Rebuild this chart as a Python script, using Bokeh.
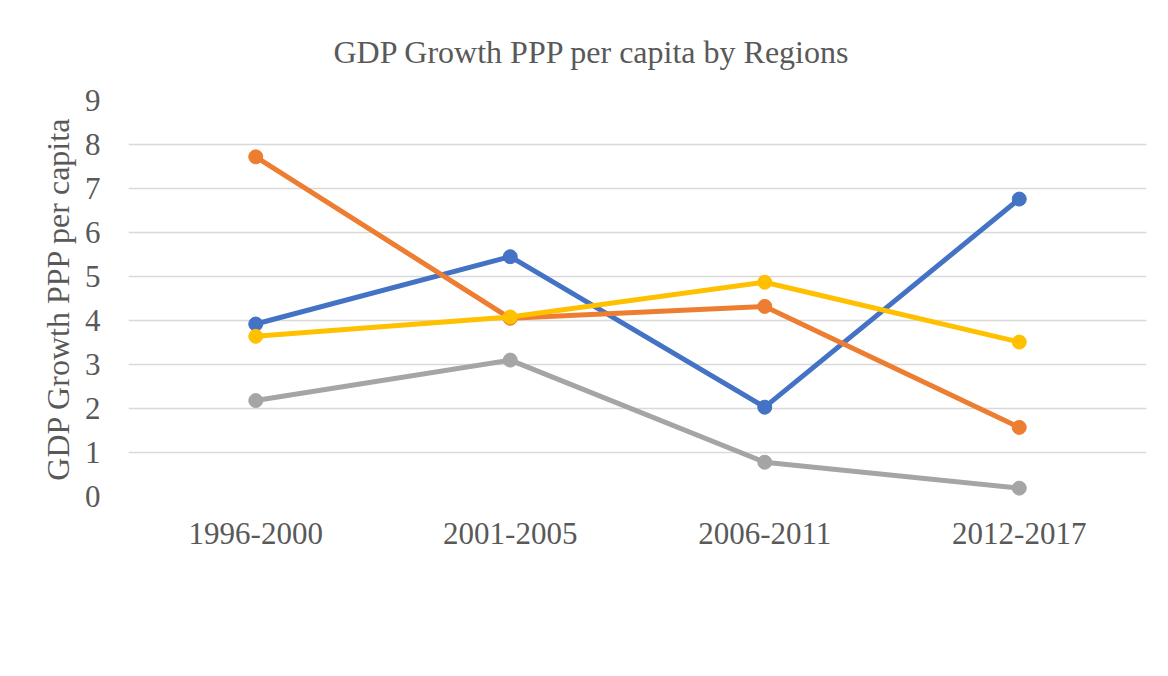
from bokeh.plotting import figure
from bokeh.models import FactorRange, Range1d, FixedTicker, Legend, LegendItem, Title
from bokeh.embed import file_html
from bokeh.resources import INLINE

periods = ["1996-2000", "2001-2005", "2006-2011", "2012-2017"]
greater_maghreb = [3.92, 5.45, 2.03, 6.76]
fertile_crescent = [7.72, 4.05, 4.32, 1.57]
arabian_peninsula = [2.18, 3.10, 0.78, 0.19]
horn_of_africa = [3.64, 4.08, 4.87, 3.51]
y_ticks = [0, 1, 2, 3, 4, 5, 6, 7, 8, 9]

series = [
    ("Greater Maghreb", greater_maghreb, "#4472C4"),
    ("Fertile Crescent", fertile_crescent, "#ED7D31"),
    ("Arabian Peninsula", arabian_peninsula, "#A5A5A5"),
    ("Horn of Africa", horn_of_africa, "#FFC000"),
]

FONT = "Liberation Serif"
TXT = "#595959"

p = figure(
    width=1160, height=668,
    frame_width=1018, frame_height=396,
    x_range=FactorRange(*periods), y_range=Range1d(0, 9),
    output_backend="svg", toolbar_location=None,
    min_border_left=128, min_border_right=14,
    min_border_top=99, min_border_bottom=173,
)
p.title = None
p.add_layout(Title(text="GDP Growth PPP per capita by Regions", align="left",
                   text_font=FONT, text_font_size="32px", text_color=TXT,
                   text_font_style="normal", offset=205, standoff=62), "above")

p.outline_line_color = None
p.xgrid.grid_line_color = None
p.ygrid.grid_line_color = "#D9D9D9"
p.ygrid.grid_line_width = 1.5

p.yaxis.ticker = FixedTicker(ticks=y_ticks)
p.yaxis.axis_line_color = None
p.yaxis.major_tick_line_color = None
p.yaxis.minor_tick_line_color = None
p.yaxis.major_tick_out = 0
p.yaxis.major_label_standoff = 28
p.yaxis.major_label_text_font = FONT
p.yaxis.major_label_text_font_size = "31px"
p.yaxis.major_label_text_color = TXT
p.yaxis.axis_label = "GDP Growth PPP per capita"
p.yaxis.axis_label_text_font = FONT
p.yaxis.axis_label_text_font_size = "32px"
p.yaxis.axis_label_text_font_style = "normal"
p.yaxis.axis_label_text_color = TXT
p.yaxis.axis_label_standoff = 6

p.xaxis.axis_line_color = None
p.xaxis.major_tick_line_color = None
p.xaxis.major_tick_out = 0
p.xaxis.major_label_standoff = 26
p.xaxis.major_label_text_font = FONT
p.xaxis.major_label_text_font_size = "31px"
p.xaxis.major_label_text_color = TXT

items = []
for name, vals, color in series:
    r1 = p.line(periods, vals, line_color=color, line_width=5)
    r2 = p.scatter(periods, vals, size=14, fill_color=color, line_color=color)
    items.append(LegendItem(label=name, renderers=[r1, r2]))

legend = Legend(items=items, location="top_center", orientation="horizontal", ncols=2,
                label_text_font=FONT, label_text_font_size="32px", label_text_color=TXT,
                glyph_width=56, glyph_height=50, label_height=50, label_width=287,
                label_standoff=4, spacing=0, padding=0, margin=12,
                background_fill_alpha=0, border_line_color=None)
p.add_layout(legend, "below")

open("out.html", "w").write(file_html(p, INLINE))
